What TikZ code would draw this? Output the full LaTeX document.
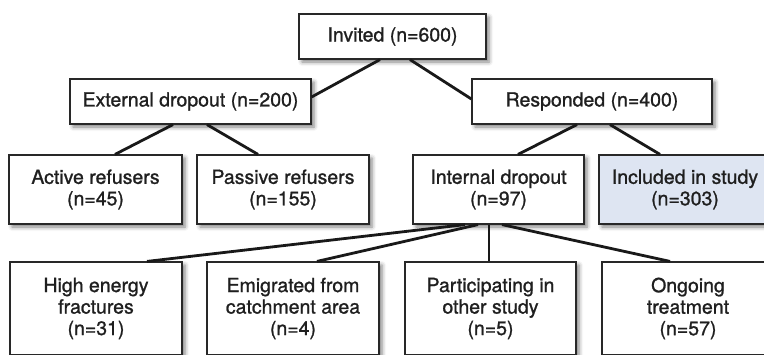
\documentclass[tikz,border=0pt]{standalone}
\usepackage{fontspec}
\setmainfont{TeX Gyre Heros}
\newfontfamily\medfont[FakeBold=1.1]{TeX Gyre Heros}
\usetikzlibrary{calc,shadows.blur}
\definecolor{boxline}{RGB}{40,40,40}
\definecolor{incfill}{RGB}{222,229,242}
\tikzset{
  box/.style={draw=boxline, line width=1.2pt, fill=white, align=center, inner sep=0pt,
    text=black!88, font=\medfont\fontsize{19.5}{21.5}\selectfont,
    blur shadow={shadow xshift=3pt, shadow yshift=-3pt, shadow blur radius=4pt, shadow opacity=50}},
  conn/.style={line width=2.8pt, draw=black!90},
}
\begin{document}
\begin{tikzpicture}[x=1pt,y=-1pt]
\useasboundingbox (0,0) rectangle (764,354);
\node[box, minimum width=187pt, minimum height=45pt] (inv) at (392.5,36.5) {Invited (n=600)};
\node[box, minimum width=241pt, minimum height=45pt] (ext) at (190.5,101.5) {External dropout (n=200)};
\node[box, minimum width=240pt, minimum height=45pt] (resp) at (592,101.5) {Responded (n=400)};
\node[box, minimum width=173pt, minimum height=69pt] (act) at (95.5,189.5) {Active refusers\\(n=45)};
\node[box, minimum width=172pt, minimum height=69pt] (pas) at (283,189.5) {Passive refusers\\(n=155)};
\node[box, minimum width=171pt, minimum height=69pt] (intd) at (498.5,189.5) {Internal dropout\\(n=97)};
\node[box, fill=incfill, minimum width=172pt, minimum height=69pt] (inc) at (685,189.5) {Included in study\\(n=303)};
\node[box, minimum width=172pt, minimum height=93pt] (high) at (96,308.5) {High energy\\fractures\\(n=31)};
\node[box, minimum width=172pt, minimum height=93pt] (emi) at (293,308.5) {Emigrated from\\catchment area\\(n=4)};
\node[box, minimum width=171pt, minimum height=93pt] (par) at (490.5,308.5) {Participating in\\other study\\(n=5)};
\node[box, minimum width=172pt, minimum height=93pt] (ong) at (688,308.5) {Ongoing\\treatment\\(n=57)};
% connectors
\draw[conn] ($(inv.south)+(-12.5,0)$) -- ($(ext.east)+(0,-4.5)$);
\draw[conn] ($(inv.south)+(17.5,0)$) -- ($(resp.west)+(0,-2.5)$);
\draw[conn] ($(ext.south)+(-17.5,0)$) -- ($(act.north)+(19.5,0)$);
\draw[conn] ($(ext.south)+(16.5,0)$) -- ($(pas.north)+(-25,0)$);
\draw[conn] ($(resp.south)+(-15,0)$) -- ($(intd.north)+(19.5,0)$);
\draw[conn] ($(resp.south)+(18,0)$) -- ($(inc.north)+(-25,0)$);
\draw[conn] ($(intd.south)+(-33.5,0)$) -- ($(high.north)+(51,0)$);
\draw[conn] ($(intd.south)+(-20.5,0)$) -- ($(emi.north)+(24,0)$);
\draw[conn] ($(intd.south)+(-9.5,0)$) -- ($(par.north)+(-1.5,0)$);
\draw[conn] ($(intd.south)+(3.5,0)$) -- ($(ong.north)+(-18,0)$);
\end{tikzpicture}
\end{document}
